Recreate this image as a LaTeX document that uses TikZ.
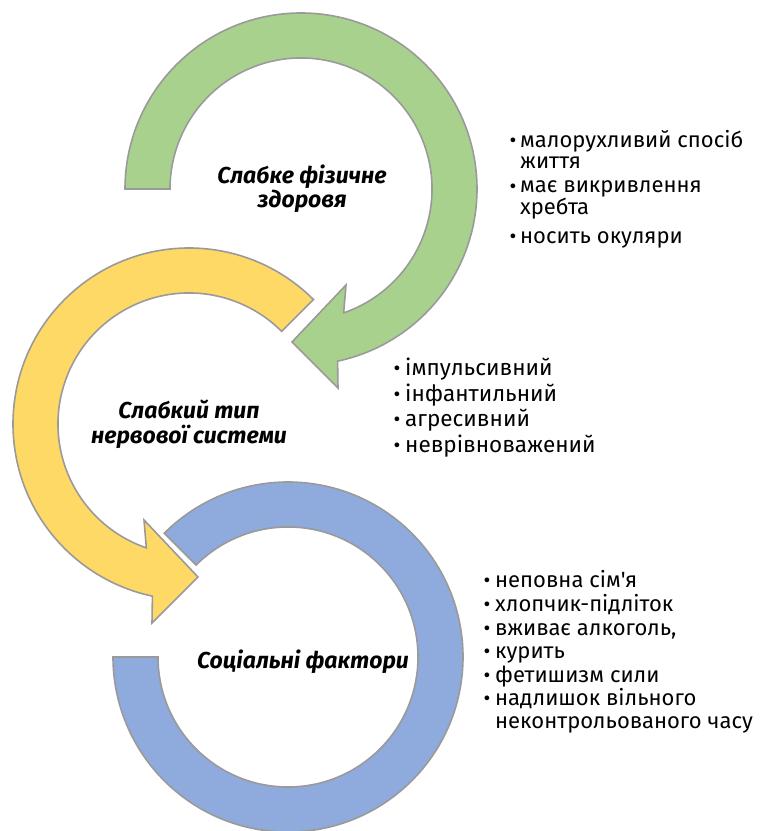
\documentclass[tikz,border=0pt]{standalone}
\usepackage{fontspec}
\setmainfont{Fira Sans}[Ligatures=TeXOff]
\definecolor{agreen}{HTML}{A9D18E}
\definecolor{ayellow}{HTML}{FFD966}
\definecolor{ablue}{HTML}{8FAADC}
\definecolor{aline}{HTML}{9A9A9A}
\tikzset{
  ring/.style={draw=aline, line width=1.6pt, line join=miter},
  head/.style={font=\fontsize{23}{24}\selectfont\bfseries\itshape, align=center, anchor=base, inner sep=0pt},
  listtext/.style={font=\fontsize{22}{21}\selectfont, align=left, anchor=base west, inner sep=0pt},
  bul/.style={font=\fontsize{21}{21}\selectfont, anchor=base, inner sep=0pt},
}
\begin{document}
\begin{tikzpicture}[x=1pt,y=1pt]
\useasboundingbox (0,0) rectangle (764,831);
% blue ring
\begin{scope}[shift={(288,174)}]
\draw[ring, fill=ablue] (135:175) arc[start angle=135, end angle=-180, radius=175]
  -- (180:130) arc[start angle=180, end angle=495, radius=130] -- cycle;
\end{scope}
% yellow arrow
\begin{scope}[shift={(189,407)}]
\draw[ring, fill=ayellow] (45:176) arc[start angle=45, end angle=258, radius=176]
  -- (-37,-199) -- (9,-153) -- (-45,-96) -- (251:131)
  arc[start angle=251, end angle=45, radius=131] -- cycle;
\end{scope}
% green arrow
\begin{scope}[shift={(301,642)}]
\draw[ring, fill=agreen] (180:176) arc[start angle=180, end angle=-78, radius=176]
  -- (37,-199) -- (-9,-153) -- (45,-96) -- (-71:131)
  arc[start angle=-71, end angle=180, radius=131] -- cycle;
\end{scope}
% headings (base anchor = last line)
\node[head] (h1) at (302,623) {Слабке фізичне\\здоровя};
\node[head, font=\fontsize{23}{25}\selectfont\bfseries\itshape] (h2) at (189,387) {Слабкий тип\\нервової системи};
\node[head] (h3) at (303,162) {Соціальні фактори};
% list 1
\node[listtext] (a1) at (520,662) {малорухливий спосіб\\життя};
\node[listtext] (a2) at (520,616) {має викривлення\\хребта};
\node[listtext] (a3) at (520,587) {носить окуляри};
\foreach \n/\y in {b1/683,b2/637,b3/587} \node[bul] (\n) at (513,\y) {•};
% list 2
\begin{scope}[listtext/.append style={font=\fontsize{22.5}{22}\selectfont}]
\node[listtext] (c1) at (405,455) {імпульсивний};
\node[listtext] (c2) at (405,429) {інфантильний};
\node[listtext] (c3) at (405,404) {агресивний};
\node[listtext] (c4) at (405,378) {неврівноважений};
\end{scope}
\foreach \n/\y in {d1/455,d2/429,d3/404,d4/378} \node[bul] (\n) at (397,\y) {•};
% list 3
\node[listtext] (e1) at (495,243) {неповна сім'я};
\node[listtext] (e2) at (495,219) {хлопчик-підліток};
\node[listtext] (e3) at (495,195) {вживає алкоголь,};
\node[listtext] (e4) at (495,172) {курить};
\node[listtext] (e5) at (495,148) {фетишизм сили};
\node[listtext, font=\fontsize{22}{23}\selectfont] (e6) at (495,102) {надлишок вільного\\неконтрольованого часу};
\foreach \n/\y in {f1/243,f2/219,f3/195,f4/172,f5/148,f6/125} \node[bul] (\n) at (487,\y) {•};
\end{tikzpicture}
\end{document}
